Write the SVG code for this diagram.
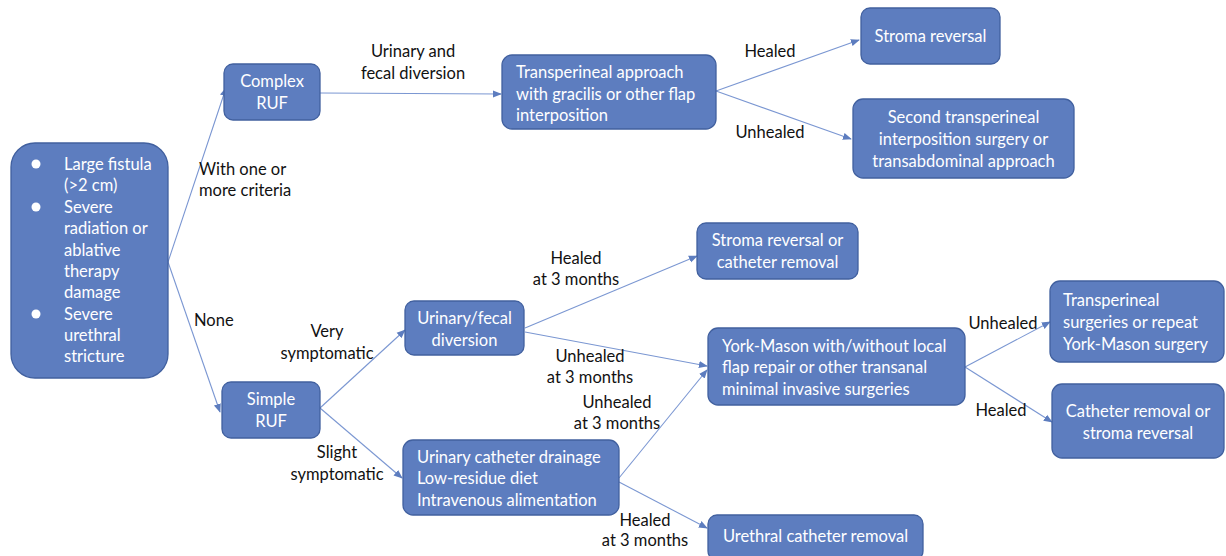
<svg xmlns="http://www.w3.org/2000/svg" width="1226" height="556" viewBox="0 0 1226 556">
<style>
.n{fill:#5d7dbf;stroke:#41609f;stroke-width:1.3}
.t{font-family:Lato,"Liberation Sans",sans-serif;font-size:16.5px;fill:#ffffff}
.c{text-anchor:middle}
.l{font-family:Lato,"Liberation Sans",sans-serif;font-size:16.5px;fill:#111111}
.e{stroke:#7b97d2;stroke-width:1.1;fill:none;marker-end:url(#a)}
</style>
<defs>
<marker id="a" viewBox="0 0 10 10" refX="9" refY="5" markerWidth="9" markerHeight="9" markerUnits="userSpaceOnUse" orient="auto">
<path d="M0,1 L10,5 L0,9 z" fill="#5d7dbf"/>
</marker>
</defs>
<rect width="1226" height="556" fill="#ffffff"/>
<g id="connectors">
<line class="e" x1="168" y1="262" x2="226" y2="88"/>
<line class="e" x1="168" y1="262" x2="220" y2="412"/>
<line class="e" x1="320" y1="93" x2="501" y2="94"/>
<line class="e" x1="716" y1="91" x2="859" y2="40"/>
<line class="e" x1="716" y1="91" x2="851" y2="139"/>
<line class="e" x1="320" y1="408" x2="405" y2="330"/>
<line class="e" x1="320" y1="408" x2="402" y2="478"/>
<line class="e" x1="525" y1="328" x2="697" y2="256"/>
<line class="e" x1="525" y1="332" x2="707" y2="366"/>
<line class="e" x1="619" y1="478" x2="707" y2="370"/>
<line class="e" x1="619" y1="482" x2="707" y2="528"/>
<line class="e" x1="965" y1="367" x2="1050" y2="322"/>
<line class="e" x1="965" y1="367" x2="1052" y2="422"/>
</g>
<g id="criteria">
<rect class="n" x="11" y="143" width="157" height="235" rx="24"/>
<g fill="#ffffff"><circle cx="36" cy="164" r="4.5"/><circle cx="36" cy="207" r="4.5"/><circle cx="36" cy="314" r="4.5"/></g>
<text class="t" x="64" y="170">Large fistula</text>
<text class="t" x="64" y="191">(&gt;2 cm)</text>
<text class="t" x="64" y="213">Severe</text>
<text class="t" x="64" y="234">radiation or</text>
<text class="t" x="64" y="256">ablative</text>
<text class="t" x="64" y="277">therapy</text>
<text class="t" x="64" y="298">damage</text>
<text class="t" x="64" y="320">Severe</text>
<text class="t" x="64" y="341">urethral</text>
<text class="t" x="64" y="362">stricture</text>
</g>
<g id="complex">
<rect class="n" x="224" y="64" width="96" height="56" rx="9"/>
<text class="t c" x="272" y="87">Complex</text>
<text class="t c" x="272" y="109">RUF</text>
</g>
<g id="transperineal">
<rect class="n" x="502" y="55" width="214" height="74" rx="10"/>
<text class="t" x="516" y="78">Transperineal approach</text>
<text class="t" x="516" y="100">with gracilis or other flap</text>
<text class="t" x="516" y="121">interposition</text>
</g>
<g id="stoma1">
<rect class="n" x="861" y="8" width="139" height="56" rx="9"/>
<text class="t c" x="930.5" y="42">Stroma reversal</text>
</g>
<g id="second">
<rect class="n" x="853" y="99" width="221" height="79" rx="10"/>
<text class="t c" x="963.5" y="123">Second transperineal</text>
<text class="t c" x="963.5" y="145">interposition surgery or</text>
<text class="t c" x="963.5" y="167">transabdominal approach</text>
</g>
<g id="simple">
<rect class="n" x="222" y="382" width="98" height="56" rx="9"/>
<text class="t c" x="271" y="405">Simple</text>
<text class="t c" x="271" y="427">RUF</text>
</g>
<g id="diversion">
<rect class="n" x="405" y="301" width="119" height="54" rx="9"/>
<text class="t c" x="464.5" y="324">Urinary/fecal</text>
<text class="t c" x="464.5" y="346">diversion</text>
</g>
<g id="stoma2">
<rect class="n" x="697" y="223" width="161" height="56" rx="9"/>
<text class="t c" x="777.5" y="246">Stroma reversal or</text>
<text class="t c" x="777.5" y="268">catheter removal</text>
</g>
<g id="conservative">
<rect class="n" x="403" y="440" width="216" height="75" rx="10"/>
<text class="t" x="417" y="463">Urinary catheter drainage</text>
<text class="t" x="417" y="484">Low-residue diet</text>
<text class="t" x="417" y="506">Intravenous alimentation</text>
</g>
<g id="yorkmason">
<rect class="n" x="708" y="328" width="257" height="77" rx="10"/>
<text class="t" x="722" y="352">York-Mason with/without local</text>
<text class="t" x="722" y="373">flap repair or other transanal</text>
<text class="t" x="722" y="395">minimal invasive surgeries</text>
</g>
<g id="repeat">
<rect class="n" x="1050" y="281" width="174" height="81" rx="10"/>
<text class="t" x="1063" y="306">Transperineal</text>
<text class="t" x="1063" y="328">surgeries or repeat</text>
<text class="t" x="1063" y="350">York-Mason surgery</text>
</g>
<g id="catheter">
<rect class="n" x="1052" y="384" width="172" height="74" rx="10"/>
<text class="t c" x="1138" y="417">Catheter removal or</text>
<text class="t c" x="1138" y="439">stroma reversal</text>
</g>
<g id="urethral">
<rect class="n" x="708" y="515" width="215" height="45" rx="9"/>
<text class="t c" x="815.5" y="542">Urethral catheter removal</text>
</g>
<g id="labels">
<text class="l c" x="413" y="57">Urinary and</text>
<text class="l c" x="413" y="79">fecal diversion</text>
<text class="l c" x="770" y="57">Healed</text>
<text class="l c" x="770" y="138">Unhealed</text>
<text class="l" x="199" y="175">With one or</text>
<text class="l" x="199" y="196">more criteria</text>
<text class="l" x="194" y="326">None</text>
<text class="l c" x="327" y="337">Very</text>
<text class="l c" x="327" y="359">symptomatic</text>
<text class="l c" x="576" y="264">Healed</text>
<text class="l c" x="576" y="285">at 3 months</text>
<text class="l c" x="590" y="362">Unhealed</text>
<text class="l c" x="590" y="383">at 3 months</text>
<text class="l c" x="617" y="408">Unhealed</text>
<text class="l c" x="617" y="429">at 3 months</text>
<text class="l c" x="337" y="458">Slight</text>
<text class="l c" x="337" y="480">symptomatic</text>
<text class="l c" x="645" y="526">Healed</text>
<text class="l c" x="645" y="546">at 3 months</text>
<text class="l c" x="1003" y="329">Unhealed</text>
<text class="l c" x="1001" y="416">Healed</text>
</g>
</svg>
